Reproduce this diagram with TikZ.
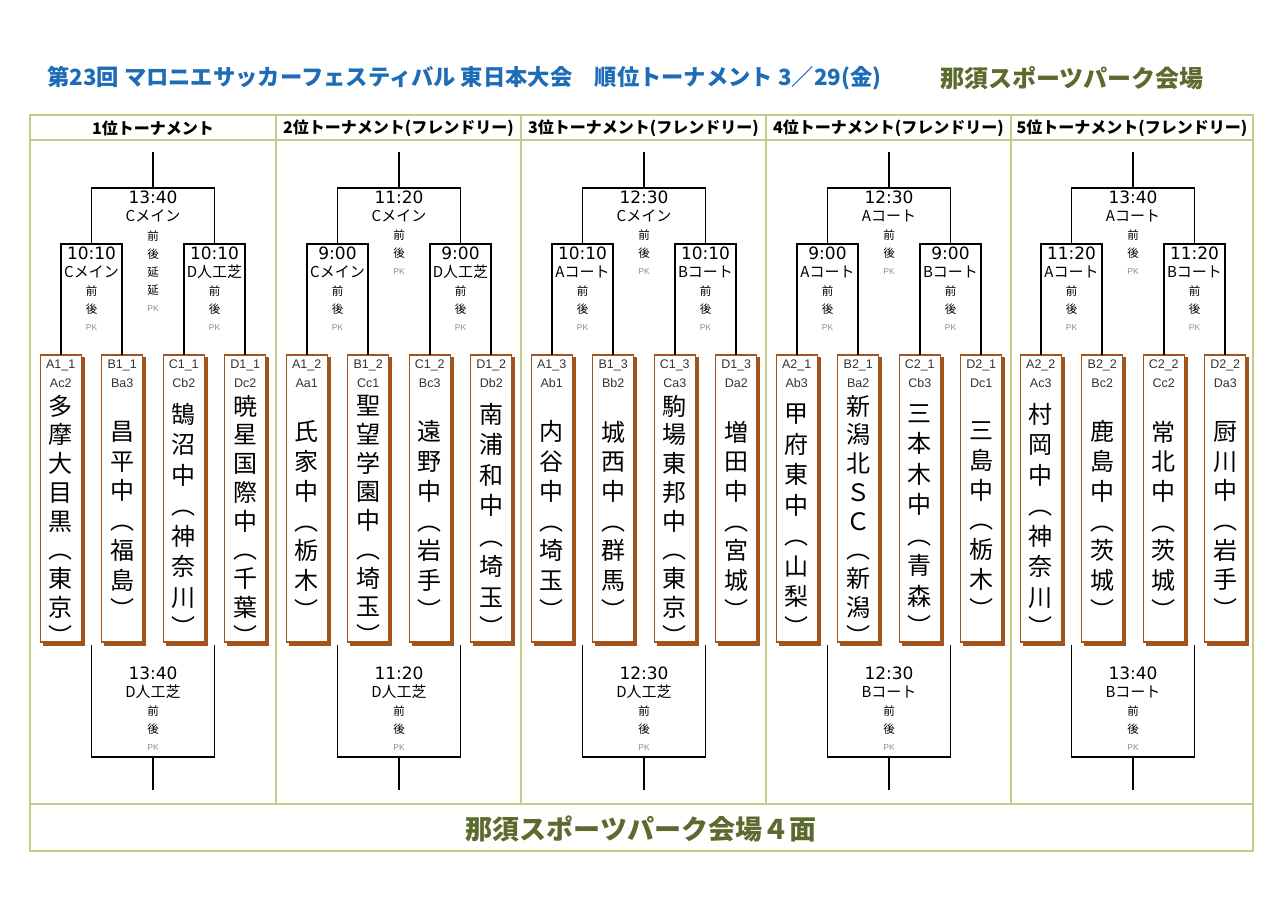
\documentclass[tikz,border=0pt]{standalone}
\usepackage{fontspec}
\setmainfont{Noto Sans CJK JP}
\newfontfamily\dvfont{DejaVu Sans}
\newfontfamily\lsfont{Liberation Sans}
\definecolor{tbl}{RGB}{196,204,138}
\definecolor{brn}{RGB}{163,84,28}
\definecolor{ttlblue}{RGB}{28,108,184}
\definecolor{olv}{RGB}{92,106,46}
\newcommand\team[6]{%
  \node[shadowbox] (#1s) at (\cx#2+3,501.5) {};
  \node[teambox] (#1) at (\cx#2,498.5) {};
  \node[codet] (#1a) at (\cx#2,365) {#3};
  \node[codet] (#1b) at (\cx#2,383) {#4};
  \node[namet,font=\fontsize{24}{#5}\selectfont] (#1n) at (\cx#2,520) {#6};
}
\newcommand\brackets[1]{%
  \coordinate (#1t) at (\cx,152);
  \coordinate (#1m) at (\cx,188);
  \coordinate (#1L) at (\cx-61.5,244);
  \coordinate (#1R) at (\cx+61.5,244);
  \draw[brk] (#1A.north) |- (#1L) -| (#1B.north);
  \draw[brk] (#1C.north) |- (#1R) -| (#1D.north);
  \draw[brk] (#1L) |- (#1m) -| (#1R);
  \draw[brk] (#1m) -- (#1t);
  \coordinate (#1bl) at (\cx-61.5,645);
  \coordinate (#1br) at (\cx+61.5,645);
  \coordinate (#1bm) at (\cx,757);
  \coordinate (#1bt) at (\cx,790);
  \draw[brk] (#1bl) |- (#1bm) -| (#1br);
  \draw[brk] (#1bm) -- (#1bt);
}
\newcommand\mlab[5]{%
  \node[timet] (#1t) at (#2,#3) {#4};
  \node[courtt] (#1c) at (#2,#3+18.5) {#5};
  \node[smallt] (#1z) at (#2,#3+38) {前};
  \node[smallt] (#1h) at (#2,#3+56.5) {後};
  \node[pkt] (#1p) at (#2,#3+75) {PK};
}
\begin{document}
\begin{tikzpicture}[x=1pt,y=-1pt,
  tline/.style={draw=tbl,line width=1.6pt},
  brk/.style={draw=black,line width=1.9pt},
  shadowbox/.style={draw=brn,fill=brn,line width=1.4pt,minimum width=41pt,minimum height=287pt,inner sep=0pt,outer sep=0pt},
  teambox/.style={draw=brn,line width=1.4pt,fill=white,minimum width=41pt,minimum height=287pt,inner sep=0pt,outer sep=0pt},
  codet/.style={font=\lsfont\fontsize{12.5}{12.5}\selectfont,text=black!80,inner sep=0pt},
  namet/.style={align=center,inner sep=0pt},
  timet/.style={font=\dvfont\fontsize{17}{17}\selectfont,inner sep=0pt},
  courtt/.style={font=\fontsize{15}{15}\selectfont,inner sep=0pt},
  smallt/.style={font=\fontsize{11.5}{11.5}\selectfont,inner sep=0pt},
  pkt/.style={font=\lsfont\fontsize{8.5}{8.5}\selectfont,text=black!45,inner sep=0pt},
  hdr/.style={font=\bfseries\fontsize{16}{16}\selectfont,inner sep=0pt}
]
\fill[white] (0,0) rectangle (1280,905);
\useasboundingbox (0,0) rectangle (1280,905);

% titles
\node[anchor=west,text=ttlblue,font=\bfseries\fontsize{22.3}{22.3}\selectfont,inner sep=0pt] (title) at (47,78)
  {第23回 マロニエサッカーフェスティバル 東日本大会　順位トーナメント 3／29(金)};
\node[anchor=west,text=olv,font=\bfseries\fontsize{24}{24}\selectfont,inner sep=0pt] (venue) at (940,78)
  {那須スポーツパーク会場};

% table
\draw[tline] (30,115) rectangle (1253,851);
\draw[tline] (30,140) -- (1253,140);
\draw[tline] (30,804) -- (1253,804);
\foreach \xx in {276,521,766,1011} \draw[tline] (\xx,115) -- (\xx,804);

\node[hdr] (h1) at (153,128) {1位トーナメント};
\node[hdr] (h2) at (398.5,128) {2位トーナメント(フレンドリー)};
\node[hdr] (h3) at (643.5,128) {3位トーナメント(フレンドリー)};
\node[hdr] (h4) at (888.5,128) {4位トーナメント(フレンドリー)};
\node[hdr] (h5) at (1132,128) {5位トーナメント(フレンドリー)};

\node[text=olv,font=\bfseries\fontsize{27}{27}\selectfont,inner sep=0pt] (foot) at (641,829) {那須スポーツパーク会場４面};

% column 1
\def\cx{153}
\team{c1A}{-92.25}{A1\_1}{Ac2}{28.75}{多\\摩\\大\\目\\黒\\︵\\東\\京\\︶}
\team{c1B}{-30.75}{B1\_1}{Ba3}{29.7}{昌\\平\\中\\︵\\福\\島\\︶}
\team{c1C}{+30.75}{C1\_1}{Cb2}{30.5}{鵠\\沼\\中\\︵\\神\\奈\\川\\︶}
\team{c1D}{+92.25}{D1\_1}{Dc2}{28.75}{暁\\星\\国\\際\\中\\︵\\千\\葉\\︶}
\brackets{c1}
\node[timet] (c1Tt) at (153,197) {13:40};
\node[courtt] (c1Tc) at (153,215.5) {Cメイン};
\node[smallt] (c1Tz) at (153,236.5) {前};
\node[smallt] (c1Th) at (153,254.5) {後};
\node[smallt] (c1Te1) at (153,272.5) {延};
\node[smallt] (c1Te2) at (153,290.5) {延};
\node[pkt] (c1Tp) at (153,308.5) {PK};
\mlab{c1SL}{153-61.5}{253}{10:10}{Cメイン}
\mlab{c1SR}{153+61.5}{253}{10:10}{D人工芝}
\mlab{c1B}{153}{673}{13:40}{D人工芝}

% column 2
\def\cx{399}
\team{c2A}{-92.25}{A1\_2}{Aa1}{29.7}{氏\\家\\中\\︵\\栃\\木\\︶}
\team{c2B}{-30.75}{B1\_2}{Cc1}{28.75}{聖\\望\\学\\園\\中\\︵\\埼\\玉\\︶}
\team{c2C}{+30.75}{C1\_2}{Bc3}{29.7}{遠\\野\\中\\︵\\岩\\手\\︶}
\team{c2D}{+92.25}{D1\_2}{Db2}{30.5}{南\\浦\\和\\中\\︵\\埼\\玉\\︶}
\brackets{c2}
\mlab{c2T}{399}{197}{11:20}{Cメイン}
\mlab{c2SL}{399-61.5}{253}{9:00}{Cメイン}
\mlab{c2SR}{399+61.5}{253}{9:00}{D人工芝}
\mlab{c2B}{399}{673}{11:20}{D人工芝}

% column 3
\def\cx{644}
\team{c3A}{-92.25}{A1\_3}{Ab1}{29.7}{内\\谷\\中\\︵\\埼\\玉\\︶}
\team{c3B}{-30.75}{B1\_3}{Bb2}{29.7}{城\\西\\中\\︵\\群\\馬\\︶}
\team{c3C}{+30.75}{C1\_3}{Ca3}{28.75}{駒\\場\\東\\邦\\中\\︵\\東\\京\\︶}
\team{c3D}{+92.25}{D1\_3}{Da2}{29.7}{増\\田\\中\\︵\\宮\\城\\︶}
\brackets{c3}
\mlab{c3T}{644}{197}{12:30}{Cメイン}
\mlab{c3SL}{644-61.5}{253}{10:10}{Aコート}
\mlab{c3SR}{644+61.5}{253}{10:10}{Bコート}
\mlab{c3B}{644}{673}{12:30}{D人工芝}

% column 4
\def\cx{889}
\team{c4A}{-92.25}{A2\_1}{Ab3}{30.5}{甲\\府\\東\\中\\︵\\山\\梨\\︶}
\team{c4B}{-30.75}{B2\_1}{Ba2}{28.75}{新\\潟\\北\\Ｓ\\Ｃ\\︵\\新\\潟\\︶}
\team{c4C}{+30.75}{C2\_1}{Cb3}{30.5}{三\\本\\木\\中\\︵\\青\\森\\︶}
\team{c4D}{+92.25}{D2\_1}{Dc1}{29.7}{三\\島\\中\\︵\\栃\\木\\︶}
\brackets{c4}
\mlab{c4T}{889}{197}{12:30}{Aコート}
\mlab{c4SL}{889-61.5}{253}{9:00}{Aコート}
\mlab{c4SR}{889+61.5}{253}{9:00}{Bコート}
\mlab{c4B}{889}{673}{12:30}{Bコート}

% column 5
\def\cx{1133}
\team{c5A}{-92.25}{A2\_2}{Ac3}{30.5}{村\\岡\\中\\︵\\神\\奈\\川\\︶}
\team{c5B}{-30.75}{B2\_2}{Bc2}{29.7}{鹿\\島\\中\\︵\\茨\\城\\︶}
\team{c5C}{+30.75}{C2\_2}{Cc2}{29.7}{常\\北\\中\\︵\\茨\\城\\︶}
\team{c5D}{+92.25}{D2\_2}{Da3}{29.7}{厨\\川\\中\\︵\\岩\\手\\︶}
\brackets{c5}
\mlab{c5T}{1133}{197}{13:40}{Aコート}
\mlab{c5SL}{1133-61.5}{253}{11:20}{Aコート}
\mlab{c5SR}{1133+61.5}{253}{11:20}{Bコート}
\mlab{c5B}{1133}{673}{13:40}{Bコート}
\end{tikzpicture}
\end{document}
